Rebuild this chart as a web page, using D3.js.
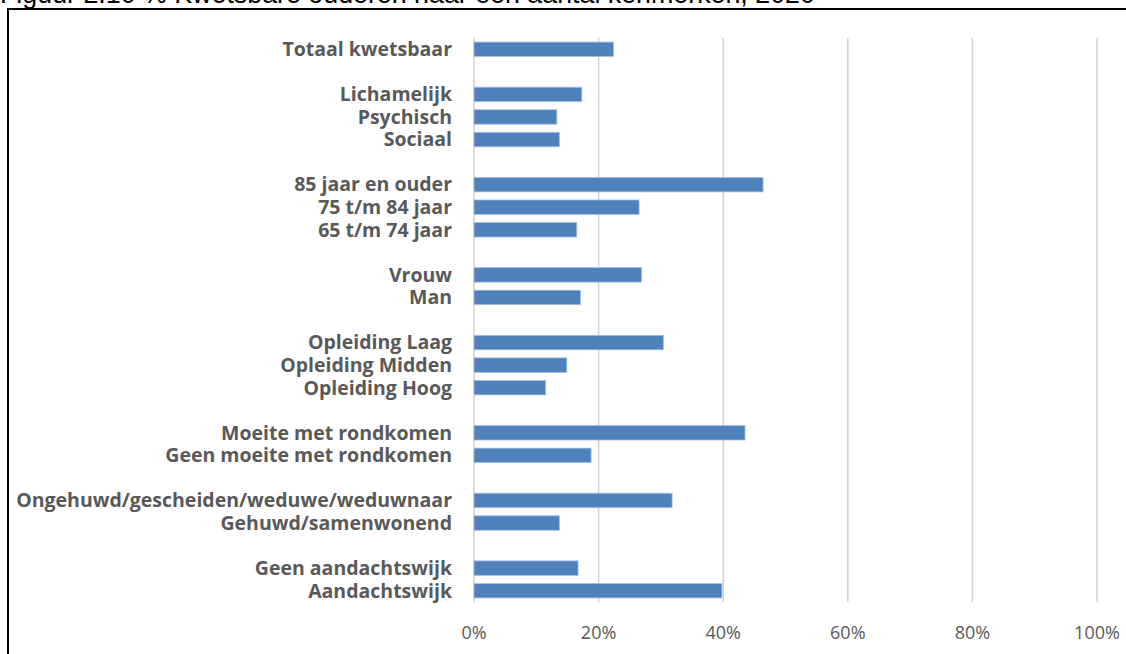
<!DOCTYPE html>
<html><head><meta charset="utf-8">
<script src="https://cdn.jsdelivr.net/npm/d3@7"></script>
<style>html,body{margin:0;padding:0;background:#fff;overflow:hidden}</style>
</head><body>
<svg id="c" width="1126" height="654"></svg>
<script>
const title = "Figuur 2.10 % Kwetsbare ouderen naar een aantal kenmerken, 2020";
const categories = ["Totaal kwetsbaar","","Lichamelijk","Psychisch","Sociaal","","85 jaar en ouder","75 t/m 84 jaar","65 t/m 74 jaar","","Vrouw","Man","","Opleiding Laag","Opleiding Midden","Opleiding Hoog","","Moeite met rondkomen","Geen moeite met rondkomen","","Ongehuwd/gescheiden/weduwe/weduwnaar","Gehuwd/samenwonend","","Geen aandachtswijk","Aandachtswijk"];
const values = [22.4,null,17.3,13.3,13.7,null,46.4,26.5,16.5,null,26.9,17.1,null,30.4,14.9,11.5,null,43.5,18.8,null,31.8,13.7,null,16.7,39.8];
const tickValues = [0,20,40,60,80,100];
const tickLabels = ["0%","20%","40%","60%","80%","100%"];

(function(){
const svg = d3.select("#c");
const pLeft = 474, pRight = 1097, pTop = 38, pBottom = 602;

// title (cut off at top in the reference)
const t = svg.append("text").attr("x", 0).attr("y", 3)
  .attr("font-family", "Liberation Sans, Arial, sans-serif").attr("font-size", 17)
  .attr("fill", "#000").text(title);
const tw = t.node().getComputedTextLength();
t.attr("font-size", 17 * 815 / tw);

// frame
svg.append("rect").attr("x", 8).attr("y", 9).attr("width", 1200).attr("height", 700)
  .attr("fill", "none").attr("stroke", "#000").attr("stroke-width", 2);

const x = d3.scaleLinear().domain([0,100]).range([pLeft, pRight]);
const y = d3.scaleBand().domain(d3.range(categories.length)).range([pTop, pBottom])
  .paddingInner(0.357).paddingOuter(0.18);

// gridlines
svg.append("g").selectAll("line").data(tickValues).join("line")
  .attr("x1", d => x(d)).attr("x2", d => x(d))
  .attr("y1", pTop).attr("y2", pBottom)
  .attr("stroke", "#d4d4d4").attr("stroke-width", 1.6);

// bars
svg.append("g").selectAll("rect").data(values.map((v,i)=>({v,i})).filter(d=>d.v!=null)).join("rect")
  .attr("x", x(0)).attr("y", d => y(d.i))
  .attr("width", d => x(d.v) - x(0)).attr("height", y.bandwidth())
  .attr("fill", "#4f81bd").attr("stroke", "#a9c0e0").attr("stroke-width", 0.8);

// category labels
const labs = svg.append("g").selectAll("text").data(categories.map((c,i)=>({c,i})).filter(d=>d.c!=="")).join("text")
  .attr("x", 452).attr("y", d => y(d.i) + y.bandwidth()/2)
  .attr("dy", "0.35em").attr("text-anchor", "end")
  .attr("font-family", "Open Sans, sans-serif").attr("font-weight", 700)
  .attr("font-size", 17).attr("fill", "#595959").text(d => d.c);
let maxW = 0; labs.each(function(){ maxW = Math.max(maxW, this.getComputedTextLength()); });
labs.attr("font-size", 17 * 436 / maxW);

// x axis labels
svg.append("g").selectAll("text").data(tickValues).join("text")
  .attr("x", d => x(d)).attr("y", 639).attr("text-anchor", "middle")
  .attr("font-family", "Open Sans, sans-serif").attr("font-size", 18)
  .attr("fill", "#595959").text((d,i) => tickLabels[i]);
})();
</script>
</body></html>
